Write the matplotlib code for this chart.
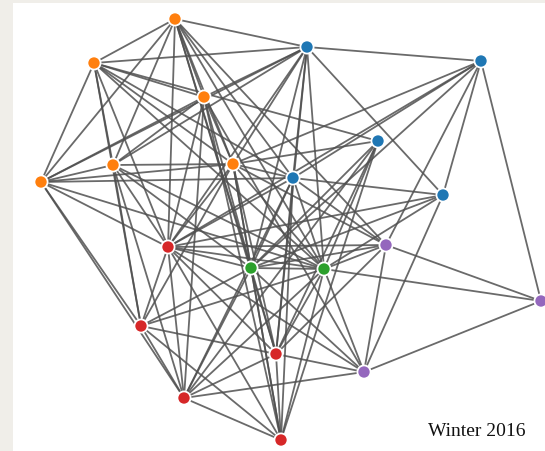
import matplotlib.pyplot as plt

# node positions (pixel coords, y down)
names = ['O1', 'O2', 'O3', 'O4', 'O5', 'O6',
         'B1', 'B2', 'B3', 'B4', 'B5',
         'R1', 'G1', 'G2', 'P1', 'P2', 'R2', 'R3', 'P3', 'R4', 'R5']
xs = [175, 94, 204, 41, 113, 233,
      307, 481, 378, 293, 443,
      168, 251, 324, 386, 541, 141, 276, 364, 184, 281]
ys = [20, 64, 98, 183, 166, 165,
      48, 62, 142, 179, 196,
      248, 269, 270, 246, 302, 327, 355, 373, 399, 441]
groups = ['orange'] * 6 + ['blue'] * 5 + ['red', 'green', 'green', 'purple', 'purple',
                                          'red', 'red', 'purple', 'red', 'red']

edges = [
    ('O1', 'O2'), ('O1', 'B1'), ('O1', 'O4'), ('O1', 'O5'), ('O1', 'R1'), ('O1', 'O3'),
    ('O1', 'R3'), ('O1', 'O6'), ('O1', 'G1'), ('O1', 'G2'), ('O1', 'P1'), ('O1', 'B4'),
    ('O2', 'B1'), ('O2', 'O4'), ('O2', 'O5'), ('O2', 'R1'), ('O2', 'O3'), ('O2', 'O6'),
    ('O2', 'B4'), ('O2', 'G2'), ('O2', 'R2'), ('O2', 'B3'),
    ('O3', 'B1'), ('O3', 'O4'), ('O3', 'O5'), ('O3', 'R1'), ('O3', 'G1'), ('O3', 'R5'),
    ('O3', 'O6'), ('O3', 'P3'), ('O3', 'R4'),
    ('O4', 'O5'), ('O4', 'O6'), ('O4', 'B4'), ('O4', 'R1'), ('O4', 'G2'), ('O4', 'R2'),
    ('O4', 'R4'), ('O4', 'B1'),
    ('O5', 'O6'), ('O5', 'R1'), ('O5', 'R2'), ('O5', 'G1'), ('O5', 'G2'), ('O5', 'R4'),
    ('O5', 'B1'),
    ('O6', 'B1'), ('O6', 'B2'), ('O6', 'B3'), ('O6', 'B4'), ('O6', 'R1'), ('O6', 'G1'),
    ('O6', 'G2'), ('O6', 'R3'), ('O6', 'R5'), ('O6', 'P1'), ('O6', 'R2'),
    ('B1', 'B2'), ('B1', 'R1'), ('B1', 'G1'), ('B1', 'B4'), ('B1', 'G2'), ('B1', 'R3'),
    ('B1', 'B5'),
    ('B2', 'B4'), ('B2', 'R1'), ('B2', 'G1'), ('B2', 'P1'), ('B2', 'B5'), ('B2', 'P2'),
    ('B3', 'G1'), ('B3', 'G2'), ('B3', 'R3'), ('B3', 'R5'), ('B3', 'R4'),
    ('B4', 'B5'), ('B4', 'P1'), ('B4', 'G1'), ('B4', 'G2'), ('B4', 'R1'), ('B4', 'R3'),
    ('B4', 'R5'), ('B4', 'R4'),
    ('B5', 'R1'), ('B5', 'G1'), ('B5', 'G2'), ('B5', 'P3'),
    ('R1', 'G1'), ('R1', 'G2'), ('R1', 'P1'), ('R1', 'R2'), ('R1', 'R3'), ('R1', 'R4'),
    ('R1', 'R5'), ('R1', 'P3'),
    ('G1', 'G2'), ('G1', 'P1'), ('G1', 'R2'), ('G1', 'R3'), ('G1', 'R4'), ('G1', 'R5'),
    ('G1', 'P3'),
    ('G2', 'P1'), ('G2', 'P2'), ('G2', 'R2'), ('G2', 'R3'), ('G2', 'R4'), ('G2', 'R5'),
    ('G2', 'P3'),
    ('P1', 'P2'), ('P1', 'P3'), ('P1', 'R3'),
    ('P2', 'P3'),
    ('R2', 'R3'), ('R2', 'R4'), ('R2', 'R5'),
    ('R3', 'P3'), ('R3', 'R4'), ('R3', 'R5'),
    ('R4', 'P3'), ('R4', 'R5'),
]

palette = {'orange': '#ff7f0e', 'blue': '#1f77b4', 'red': '#d62728',
           'green': '#2ca02c', 'purple': '#9467bd'}

fig = plt.figure(figsize=(5.45, 4.52), dpi=100, facecolor='#f0eee9')
ax = fig.add_axes([13 / 545, 0, 1 - 13 / 545, 448 / 452])
ax.set_facecolor('white')
ax.set_xlim(13, 545)
ax.set_ylim(452, 4)
ax.set_xticks([])
ax.set_yticks([])
for s in ax.spines.values():
    s.set_visible(False)

idx = {n: i for i, n in enumerate(names)}
for a, b in edges:
    i, j = idx[a], idx[b]
    ax.plot([xs[i], xs[j]], [ys[i], ys[j]], color='#505050', lw=1.3, alpha=0.85,
            solid_capstyle='round', zorder=1)

ax.scatter(xs, ys, s=90, c=[palette[g] for g in groups], edgecolors='white',
           linewidths=1.3, zorder=3)

ax.text(477, 432, 'Winter 2016', family='Liberation Serif', fontsize=14,
        ha='center', va='center', color='#111111')

fig.savefig('out.png', dpi=100, facecolor=fig.get_facecolor())
